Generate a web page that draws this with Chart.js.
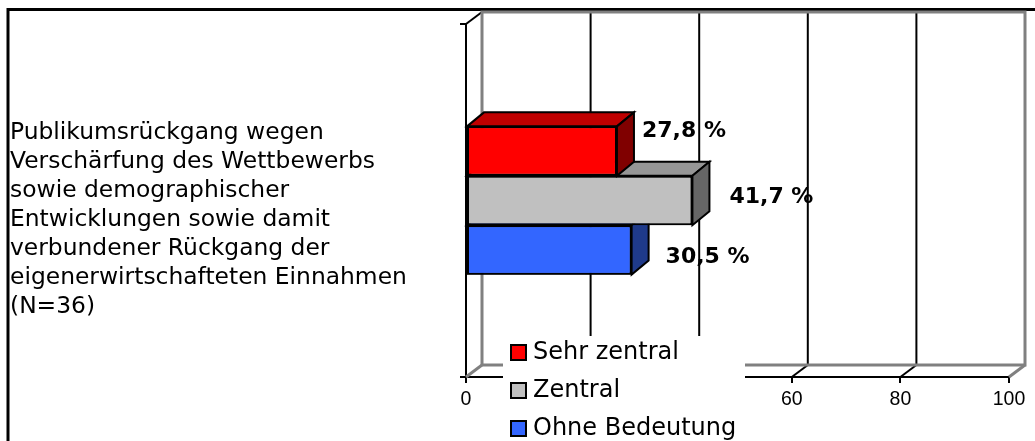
<!DOCTYPE html>
<html>
<head>
<meta charset="utf-8">
<title>Publikumsrückgang</title>
<script src="https://cdn.jsdelivr.net/npm/chart.js@4/dist/chart.umd.min.js"></script>
<style>
  body { margin: 0; background: #fff; }
  canvas { display: block; }
</style>
</head>
<body>
<canvas id="myChart" width="1035" height="441"></canvas>
<script>
'use strict';

// chart data
let categories = [[
  'Publikumsrückgang wegen',
  'Verschärfung des Wettbewerbs',
  'sowie demographischer',
  'Entwicklungen sowie damit',
  'verbundener Rückgang der',
  'eigenerwirtschafteten Einnahmen',
  '(N=36)'
]];
let seriesNames = ['Sehr zentral', 'Zentral', 'Ohne Bedeutung'];
let sehrZentral = [27.8];
let zentral = [41.7];
let ohneBedeutung = [30.5];
let xTicks = [0, 20, 40, 60, 80, 100];

// styles: front / top / side faces of the bars
let frontColors = ['#ff0000', '#c0c0c0', '#3366ff'];
let topColors = ['#c00000', '#969696', '#284fc8'];
let sideColors = ['#800000', '#666666', '#1f3a8a'];
// value label shift: x from the side face, y from bar centre
let labelShift = [[8, -20], [20, -3], [17, 7]];

let barDepthX = 17;
let barDepthY = 14;
let wallX = 16;
let wallY = 12;

function line(ctx, x1, y1, x2, y2) {
  ctx.beginPath();
  ctx.moveTo(x1, y1);
  ctx.lineTo(x2, y2);
  ctx.stroke();
}

function poly(ctx, pts, fill) {
  ctx.beginPath();
  ctx.moveTo(pts[0][0], pts[0][1]);
  for (let i = 1; i < pts.length; i++) {
    ctx.lineTo(pts[i][0], pts[i][1]);
  }
  ctx.closePath();
  ctx.fillStyle = fill;
  ctx.fill();
  ctx.stroke();
}

function formatValue(v) {
  return v.toFixed(1).replace('.', ',') + ' %';
}

let chartDecor = {
  id: 'chartDecor',
  beforeDraw(chart) {
    let ctx = chart.ctx;
    ctx.save();
    ctx.fillStyle = '#fff';
    ctx.fillRect(0, 0, chart.width, chart.height);
    // outer frame (top and left only)
    ctx.strokeStyle = '#000';
    ctx.lineWidth = 3;
    ctx.beginPath();
    ctx.moveTo(8, chart.height);
    ctx.lineTo(8, 9.5);
    ctx.lineTo(chart.width, 9.5);
    ctx.stroke();
    ctx.restore();
  },
  beforeDatasetsDraw(chart) {
    let ctx = chart.ctx;
    let area = chart.chartArea;
    let xScale = chart.scales.x;
    ctx.save();
    // grid lines on the back wall and on the floor
    ctx.strokeStyle = '#000';
    ctx.lineWidth = 2;
    xScale.ticks.forEach(function (t) {
      if (t.value === xScale.min || t.value === xScale.max) {
        return;
      }
      let px = xScale.getPixelForValue(t.value);
      line(ctx, px + wallX, area.top - wallY, px + wallX, area.bottom - wallY);
      line(ctx, px, area.bottom, px + wallX, area.bottom - wallY);
    });
    line(ctx, area.left, area.top, area.left + wallX, area.top - wallY);
    // back wall outline
    ctx.strokeStyle = '#808080';
    ctx.lineWidth = 3;
    ctx.strokeRect(area.left + wallX, area.top - wallY, area.right - area.left, area.bottom - area.top);
    line(ctx, area.left, area.bottom, area.left + wallX, area.bottom - wallY);
    line(ctx, area.right, area.bottom, area.right + wallX, area.bottom - wallY);
    ctx.restore();
  },
  afterDatasetsDraw(chart) {
    let ctx = chart.ctx;
    ctx.save();
    ctx.strokeStyle = '#000';
    ctx.lineWidth = 2;
    ctx.lineJoin = 'miter';
    // draw from the lowest bar up so upper bars overlap correctly
    for (let i = chart.data.datasets.length - 1; i >= 0; i--) {
      let meta = chart.getDatasetMeta(i);
      meta.data.forEach(function (bar) {
        let p = bar.getProps(['x', 'y', 'base', 'height'], true);
        let top = p.y - p.height / 2;
        let bottom = p.y + p.height / 2;
        poly(ctx, [
          [p.base, top], [p.base + barDepthX, top - barDepthY],
          [p.x + barDepthX, top - barDepthY], [p.x, top]
        ], topColors[i]);
        poly(ctx, [
          [p.x, top], [p.x + barDepthX, top - barDepthY],
          [p.x + barDepthX, bottom - barDepthY], [p.x, bottom]
        ], sideColors[i]);
        bar.draw(ctx);
      });
    }
    // value labels
    ctx.fillStyle = '#000';
    ctx.font = 'bold 22px "DejaVu Sans"';
    ctx.textAlign = 'left';
    ctx.textBaseline = 'middle';
    chart.data.datasets.forEach(function (ds, i) {
      chart.getDatasetMeta(i).data.forEach(function (bar, j) {
        let p = bar.getProps(['x', 'y'], true);
        ctx.fillText(formatValue(ds.data[j]), p.x + barDepthX + labelShift[i][0], p.y + labelShift[i][1]);
      });
    });
    ctx.restore();
  },
  afterDraw(chart) {
    // legend box laid over the lower plot
    let ctx = chart.ctx;
    ctx.save();
    ctx.fillStyle = '#fff';
    ctx.fillRect(503, 336, 242, 105);
    ctx.font = '24px "DejaVu Sans"';
    ctx.textAlign = 'left';
    ctx.textBaseline = 'middle';
    ctx.lineWidth = 2;
    ctx.strokeStyle = '#000';
    chart.data.datasets.forEach(function (ds, i) {
      let y = 353 + i * 38;
      ctx.fillStyle = ds.backgroundColor;
      ctx.fillRect(511, y - 8, 15, 15);
      ctx.strokeRect(511, y - 8, 15, 15);
      ctx.fillStyle = '#000';
      ctx.fillText(ds.label, 533, y);
    });
    ctx.restore();
  }
};

Chart.defaults.color = '#000';
Chart.defaults.font.family = '"DejaVu Sans", Verdana, sans-serif';

let ctx = document.getElementById('myChart').getContext('2d');
let myChart = new Chart(ctx, {
  type: 'bar',
  data: {
    labels: categories,
    datasets: [{
      label: seriesNames[0],
      data: sehrZentral,
      backgroundColor: frontColors[0]
    }, {
      label: seriesNames[1],
      data: zentral,
      backgroundColor: frontColors[1]
    }, {
      label: seriesNames[2],
      data: ohneBedeutung,
      backgroundColor: frontColors[2]
    }]
  },
  options: {
    indexAxis: 'y',
    responsive: false,
    animation: false,
    events: [],
    layout: {
      padding: { left: 10, top: 24, right: 26, bottom: 0 }
    },
    datasets: {
      bar: {
        borderColor: '#000',
        borderWidth: 2,
        borderSkipped: false,
        categoryPercentage: 0.42,
        barPercentage: 1
      }
    },
    scales: {
      x: {
        min: xTicks[0],
        max: xTicks[xTicks.length - 1],
        afterBuildTicks(scale) {
          scale.ticks = xTicks.map(function (v) { return { value: v }; });
        },
        afterFit(scale) {
          scale.height = 64;
          scale.paddingLeft = 0;
          scale.paddingRight = 0;
        },
        border: { display: true, color: '#000', width: 2 },
        grid: {
          drawOnChartArea: false,
          drawTicks: true,
          tickLength: 6,
          color: '#000',
          lineWidth: 2
        },
        ticks: {
          padding: 5,
          maxRotation: 0,
          font: { family: '"Liberation Sans", Arial, sans-serif', size: 19.5 }
        }
      },
      y: {
        afterFit(scale) {
          scale.width = 456;
          scale.paddingTop = 0;
          scale.paddingBottom = 0;
        },
        border: { display: true, color: '#000', width: 2 },
        grid: {
          drawOnChartArea: false,
          drawTicks: true,
          tickLength: 6,
          color: '#000',
          lineWidth: 2
        },
        ticks: {
          crossAlign: 'far',
          labelOffset: 19.5,
          font: { size: 23.4, lineHeight: '29px' }
        }
      }
    },
    plugins: {
      legend: { display: false },
      tooltip: { enabled: false }
    }
  },
  plugins: [chartDecor]
});
</script>
</body>
</html>
